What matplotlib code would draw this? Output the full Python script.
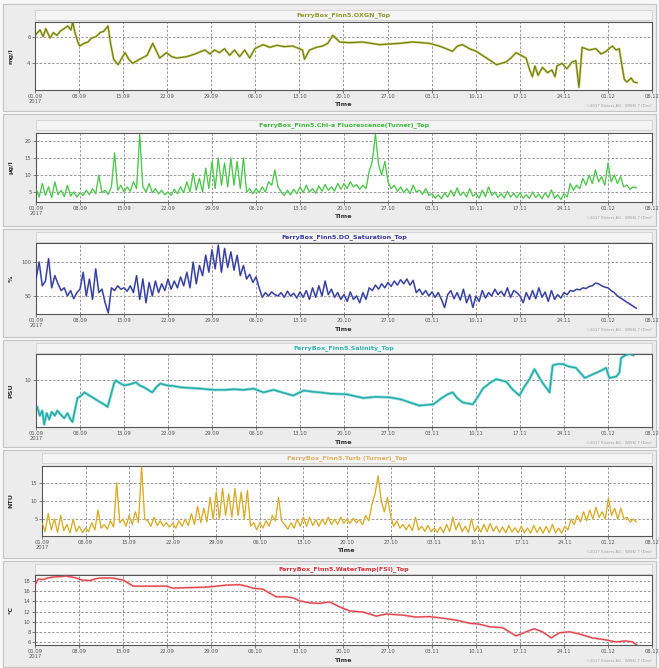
import numpy as np
import pandas as pd
import matplotlib
matplotlib.use('Agg')
import matplotlib.pyplot as plt
from matplotlib.patches import Rectangle

# ---------------- data ----------------
START = pd.Timestamp('2017-09-01')
tick_labels = ['01.09', '08.09', '15.09', '22.09', '29.09', '06.10', '13.10', '20.10',
               '27.10', '03.11', '10.11', '17.11', '24.11', '01.12', '08.12']
tick_days = [0, 7, 14, 21, 28, 35, 42, 49, 56, 63, 70, 77, 84, 91, 98]
year_label = '2017'

oxgn_days = [0.2, 0.8, 1.3, 1.7, 2.4, 2.9, 3.5, 4.0, 4.6, 5.2, 5.7, 6.0, 6.3, 6.8, 7.1, 7.8,
             8.4, 9.0, 9.7, 10.3, 10.9, 11.6, 12.0, 12.5, 13.2, 13.8, 14.3, 14.9, 15.5, 16.6,
             17.8, 18.7, 19.3, 19.8, 20.9, 21.7, 22.5, 24.1, 25.4, 26.2, 27.0, 27.8, 28.5,
             29.3, 30.1, 30.9, 31.7, 32.5, 33.3, 34.1, 34.9, 36.2, 37.3, 38.4, 39.6, 40.9,
             42.5, 42.8, 43.6, 44.7, 45.7, 46.5, 47.3, 48.4, 50.0, 52.0, 53.4, 54.7, 56.3,
             57.9, 59.9, 61.4, 62.6, 64.2, 65.3, 66.3, 67.1, 67.9, 69.0, 70.1, 71.7, 73.3,
             74.8, 75.6, 76.4, 77.2, 78.0, 78.5, 79.0, 79.4, 79.9, 80.6, 81.4, 82.1, 82.6,
             82.9, 83.7, 84.5, 85.3, 85.9, 86.4, 86.9, 88.0, 89.1, 89.9, 90.7, 91.7, 92.3,
             92.8, 93.1, 93.6, 94.0, 94.7, 95.1, 95.6]
oxgn_vals = [6.2, 6.5, 6.0, 6.6, 5.9, 6.3, 6.1, 6.4, 6.6, 6.8, 6.5, 7.1, 6.4, 5.6, 5.3, 5.5,
             5.6, 5.9, 6.0, 6.3, 6.4, 6.8, 5.5, 4.3, 3.9, 4.4, 4.8, 4.3, 4.0, 4.3,
             4.6, 5.5, 4.9, 4.4, 4.8, 4.5, 4.4, 4.5, 4.7, 4.85, 5.0, 4.7, 5.0,
             4.8, 5.1, 4.6, 5.0, 4.5, 5.0, 4.4, 5.1, 5.4, 5.2, 5.35, 5.25, 5.3,
             5.0, 4.3, 5.0, 5.2, 5.3, 5.5, 6.1, 5.6, 5.55, 5.6, 5.5, 5.4, 5.45,
             5.5, 5.6, 5.55, 5.5, 5.3, 5.1, 4.9, 5.3, 5.4, 5.1, 4.9, 4.4, 3.9,
             4.1, 4.4, 4.8, 4.6, 4.4, 3.6, 3.0, 3.8, 3.1, 3.7, 3.3, 3.5, 3.0,
             3.8, 4.0, 3.6, 4.1, 4.2, 2.2, 5.2, 5.0, 5.1, 4.7, 4.9, 5.3, 5.0,
             5.1, 4.2, 2.8, 2.6, 2.9, 2.6, 2.55]

# half-daily samples starting 01.09
chl_vals = [6, 3.5, 7.5, 4, 6.5, 3.4, 8, 4.2, 5.5, 3.6, 7, 3.8, 5, 3.5,
            4.8, 4.0, 5.5, 4.2, 6, 4.5, 10, 4.8, 5.5, 4.3, 6.5, 16.5, 5.5, 7,
            5, 6.5, 5.2, 8, 6, 22, 6.5, 5, 7.5, 4.8, 6, 4.5, 5.5, 4.2,
            5, 4, 5.8, 4.5, 6.5, 4.8, 8, 5, 10.5, 5.5, 9, 5, 12, 6,
            14, 6, 15, 7, 13.5, 6.5, 15, 7, 14, 6, 15, 5, 6, 4.5,
            6, 4.8, 6.5, 5, 8, 7, 11.5, 6.5, 5, 4, 5.5, 4.2, 5.8, 4.5,
            6.5, 4.8, 7, 5, 6, 4.6, 6.8, 5.2, 7.2, 5.5, 6.5, 5.3, 7.5, 5.8,
            7.5, 6, 8, 6.5, 7.2, 5.8, 7, 6, 11, 14, 22, 13, 10, 14,
            8, 6, 7, 5.2, 6.5, 4.8, 6, 4.5, 7, 5, 5.5, 4.3, 6, 4,
            4.5, 3.2, 4.2, 3, 4.8, 3.5, 5.5, 3.8, 6.2, 4, 5, 3.5, 6, 3.8,
            4.5, 3.2, 5.5, 3.6, 6.5, 4, 5, 3.4, 4.5, 3.2, 5.2, 3.5, 4.6, 3.3,
            4.8, 3.2, 4.2, 3.1, 5, 3.4, 4.4, 3, 4.8, 3.3, 5.6, 3.2, 4.2, 2.8,
            4.5, 3.5, 7.5, 5.5, 7, 6, 9, 7, 10, 7.5, 11.5, 8, 9.5, 7,
            13.5, 8, 10, 7.5, 9.5, 6.5, 7, 5.8, 6.5, 6.2]

do_vals = [75, 100, 65, 72, 105, 62, 80, 68, 58, 62, 50, 58, 46, 55,
           60, 85, 50, 75, 45, 90, 55, 60, 40, 25, 62, 58, 65, 60,
           62, 57, 65, 55, 80, 45, 75, 40, 70, 50, 72, 55, 68, 58,
           75, 60, 72, 62, 78, 65, 85, 62, 100, 68, 95, 80, 110, 85,
           118, 90, 125, 85, 120, 92, 115, 88, 110, 80, 95, 75, 82, 70,
           78, 62, 48, 55, 50, 56, 52, 50, 55, 48, 57, 50, 54, 47,
           56, 48, 58, 45, 62, 48, 65, 50, 72, 52, 60, 48, 55, 45,
           52, 42, 56, 45, 50, 40, 55, 45, 62, 58, 66, 60, 68, 62,
           70, 64, 72, 66, 74, 68, 75, 66, 73, 55, 60, 52, 58, 50,
           56, 48, 55, 45, 33, 52, 58, 46, 55, 44, 60, 40, 52, 33,
           50, 42, 58, 47, 55, 50, 60, 52, 57, 50, 62, 48, 58, 55,
           50, 40, 55, 45, 58, 46, 62, 48, 56, 42, 58, 45, 52, 47,
           55, 52, 58, 57, 60, 59, 62, 61, 64, 65, 69, 68, 65, 63,
           62, 58, 55, 50, 47, 44, 41, 38, 35, 32]

sal_days = [0.2, 0.6, 1.0, 1.3, 1.7, 2.1, 2.5, 3.0, 3.4, 3.9, 4.5, 5.0, 5.5, 5.8, 6.6, 7.2,
            7.7, 8.5, 9.8, 10.8, 11.4, 12.0, 12.4, 12.7, 13.3, 14.0, 15.0, 15.9, 16.5, 17.2,
            18.0, 18.5, 19.2, 19.8, 20.9, 22.0, 23.0, 24.5, 26.2, 28.3, 30.0, 31.5, 33.0,
            34.6, 36.2, 37.8, 39.5, 40.9, 42.6, 44.0, 45.2, 46.8, 49.4, 52.1, 54.0, 56.3,
            58.0, 59.5, 61.0, 62.0, 63.2, 64.0, 64.7, 65.5, 66.3, 67.0, 67.9, 69.5, 70.3,
            71.1, 72.2, 73.2, 74.8, 75.8, 76.9, 77.7, 78.5, 79.3, 80.0, 80.6, 81.2, 81.7,
            82.2, 83.0, 83.8, 84.8, 85.9, 86.6, 87.3, 88.2, 89.1, 90.0, 90.7, 91.2, 92.3,
            92.8, 93.1, 93.8, 94.4, 95.0]
sal_vals = [7.9, 7.2, 7.6, 6.5, 7.4, 6.9, 7.5, 7.2, 7.6, 7.3, 7.0, 7.4, 6.9, 6.7, 8.6, 8.8,
            9.05, 8.8, 8.4, 8.1, 7.9, 9.0, 9.75, 10.0, 9.8, 9.6, 9.7, 9.85, 9.6, 9.45,
            9.2, 9.05, 9.5, 9.75, 9.6, 9.55, 9.45, 9.4, 9.35, 9.25, 9.25, 9.3, 9.25,
            9.35, 9.05, 9.25, 9.0, 8.8, 9.2, 9.1, 9.05, 8.95, 8.9, 8.6, 8.7, 8.65,
            8.5, 8.25, 8.0, 8.05, 8.1, 8.4, 8.65, 8.9, 9.05, 8.6, 8.25, 8.1, 8.7,
            9.35, 9.8, 10.1, 9.9, 9.3, 8.8, 9.5, 10.1, 10.9, 10.3, 9.8, 9.4, 9.05,
            11.2, 11.3, 11.3, 11.1, 11.0, 10.6, 10.2, 10.4, 10.6, 10.8, 11.0, 10.2, 10.3,
            10.6, 11.8, 12.0, 12.1, 12.0]

turb_vals = [4, 1.5, 6.5, 2, 5, 1.3, 6, 1.8, 3.5, 1.2, 5, 1.5, 3, 1.2,
             2.5, 1.5, 4, 2, 7.5, 2.5, 3.5, 2.2, 4.5, 2.8, 15, 4, 5, 3,
             6, 3.5, 7, 4, 19.5, 5, 4.5, 3, 5.5, 3.2, 4.5, 3, 4, 2.8,
             3.8, 2.5, 4.5, 3, 5, 3.2, 6.5, 3.5, 8.5, 4, 8, 4.2, 11, 5,
             12.5, 5, 13.5, 6, 12, 5.5, 13.5, 6, 12.5, 5, 13, 3, 4, 2,
             4, 2.5, 4.5, 3, 6, 4.5, 11, 4.5, 3.5, 2.2, 4, 2.5, 5, 3,
             5.5, 3, 5.5, 3.2, 4.8, 3, 5, 3.5, 5.5, 3.5, 5, 3.5, 5.5, 3.8,
             5, 3.8, 5.2, 4, 4.8, 3.5, 6, 4.5, 9, 12, 17, 10, 7, 11,
             6, 3, 4.5, 2.5, 3.5, 2, 3.5, 1.8, 5.5, 2, 3, 1.6, 3.2, 1.5,
             2.5, 1.3, 2.8, 1.2, 3.5, 1.5, 5.5, 2, 4, 1.5, 3, 1.3, 5, 1.6,
             3, 1.4, 3.5, 1.5, 3.8, 1.6, 3, 1.3, 2.8, 1.2, 3.2, 1.4, 2.6, 1.2,
             3, 1.2, 2.5, 1.1, 3.2, 1.3, 2.8, 1.1, 3, 1.2, 3.5, 1.2, 2.5, 1.1,
             3, 2, 5, 3.5, 6, 4.2, 7, 4.5, 7.5, 5, 8.3, 5.5, 7, 5,
             10.8, 6, 8, 5, 8, 5, 5.5, 4.2, 5, 4.2]

temp_days = [0.0, 0.5, 1.3, 2.0, 2.9, 4.0, 5.0, 5.8, 6.6, 7.4, 8.7, 9.5, 10.3, 12.4, 14.0,
             14.8, 15.6, 18.2, 20.9, 21.9, 24.0, 27.2, 30.4, 32.5, 33.6, 34.6, 36.2, 37.3,
             38.3, 39.9, 41.0, 42.0, 43.6, 45.2, 46.8, 48.4, 50.0, 52.1, 54.2, 55.8, 58.4,
             60.5, 62.6, 64.7, 66.9, 69.0, 70.6, 72.2, 74.3, 76.4, 78.0, 79.3, 80.6, 82.0,
             83.3, 84.9, 86.4, 88.5, 90.7, 92.3, 93.8, 94.9, 95.7]
temp_vals = [17.2, 18.4, 18.3, 18.6, 18.8, 18.9, 19.0, 18.8, 18.6, 18.2, 18.1, 18.4, 18.6, 18.6, 18.2,
             17.6, 17.0, 17.0, 17.0, 16.6, 16.7, 16.8, 17.2, 17.3, 17.0, 16.6, 16.4, 15.6,
             14.9, 14.9, 14.7, 14.1, 13.7, 13.6, 13.9, 12.9, 12.1, 11.9, 11.1, 11.5, 11.3,
             10.9, 11.0, 10.7, 10.3, 9.7, 9.5, 9.0, 8.8, 7.2, 8.0, 8.6, 8.0, 6.8,
             7.8, 8.0, 7.6, 6.8, 6.4, 6.0, 6.2, 6.0, 5.3]

titles = ['FerryBox_Finn5.OXGN_Top',
          'FerryBox_Finn5.Chl-a Fluorescence(Turner)_Top',
          'FerryBox_Finn5.DO_Saturation_Top',
          'FerryBox_Finn5.Salinity_Top',
          'FerryBox_Finn5.Turb (Turner)_Top',
          'FerryBox_Finn5.WaterTemp(FSI)_Top']
ylabels = ['mg/l', 'µg/l', '%', 'PSU', 'NTU', '°C']
yticks_list = [[4, 6], [5, 10, 15, 20], [50, 100], [10], [5, 10, 15],
               [6, 8, 10, 12, 14, 16, 18]]
copyright_text = '©2017 Kisters AG - WISKI 7 (Dev)'


def to_dates(days):
    return START + pd.to_timedelta(np.asarray(days, dtype=float), unit='D')


half_day = np.arange(len(chl_vals)) * 0.5
series = [(oxgn_days, oxgn_vals), (half_day, chl_vals), (half_day, do_vals),
          (sal_days, sal_vals), (half_day, turb_vals), (temp_days, temp_vals)]

# ---------------- style / layout ----------------
W, H = 659, 668
line_colors = ['#6f7d18', '#3fbf3f', '#2b3596', '#22aaa8', '#d4a21e', '#e0404a']
halo_colors = ['#c9d06a', '#9ae49a', '#8890d0', '#90dcd8', '#eed47a', '#f6a8a8']
title_colors = ['#8f9a2a', '#3cbc3c', '#3a3aa8', '#30b4b4', '#e0b060', '#e03038']
line_widths = [0.8, 0.6, 0.7, 1.0, 0.6, 0.8]
halo_widths = [1.7, 1.1, 1.3, 2.1, 1.1, 1.5]
ylims = [(2.0, 7.1), (2.06, 22.35), (23.5, 128), (6.3, 12.1), (0.3, 19.7), (5.4, 19.2)]
# (frame_top, frame_bottom, title_y, plot_left, plot_top, plot_right, plot_bottom)
layout = [(4, 111, 15, 35, 22, 652, 90),
          (114, 226, 125, 36, 133, 652, 202),
          (229, 337, 237, 36, 243, 652, 314),
          (340, 447, 348, 36, 354, 652, 427),
          (450, 558, 458, 42, 466, 652, 536),
          (561, 667, 569, 35, 575, 652, 645)]

fig = plt.figure(figsize=(W / 100, H / 100), dpi=100)
fig.patch.set_facecolor('#f7f7f7')


def fx(x):
    return x / W


def fy(y):
    return 1 - y / H


tick_dates = to_dates(tick_days)
xlabels = list(tick_labels)
xlabels[0] = xlabels[0] + '\n' + year_label

for i in range(6):
    ft, fb, ty, pl, pt, pr, pb = layout[i]
    # panel frame
    fig.patches.append(Rectangle((fx(3), fy(fb)), fx(653), (fb - ft) / H,
                                 transform=fig.transFigure, facecolor='#ececec',
                                 edgecolor='#c4c4c4', lw=0.8, zorder=0))
    # title strip
    fig.patches.append(Rectangle((fx(pl), fy(ty + 5)), fx(pr - pl), 10 / H,
                                 transform=fig.transFigure, facecolor='#f4f4f4',
                                 edgecolor='#cfcfcf', lw=0.6, zorder=1))
    fig.text(fx((pl + pr) / 2), fy(ty), titles[i], ha='center', va='center',
             fontsize=4.6, color=title_colors[i], fontweight='bold', zorder=3)

    ax = fig.add_axes([fx(pl), fy(pb), fx(pr - pl), (pb - pt) / H])
    ax.set_zorder(5)
    ax.set_facecolor('white')
    xd, yd = series[i]
    t = to_dates(xd)
    ax.plot(t, yd, color=halo_colors[i], lw=halo_widths[i], solid_joinstyle='round', zorder=2)
    ax.plot(t, yd, color=line_colors[i], lw=line_widths[i], zorder=3)
    ax.set_xlim(to_dates([0])[0], to_dates([98])[0])
    ax.set_ylim(*ylims[i])
    ax.set_xticks(tick_dates)
    ax.set_xticklabels(xlabels, fontsize=3.7, color='#333333', linespacing=0.9)
    ax.set_yticks(yticks_list[i])
    ax.set_yticklabels([str(v) for v in yticks_list[i]], fontsize=3.8, color='#333333')
    ax.tick_params(length=2, width=0.5, pad=1.2, colors='#555555')
    ax.grid(True, color='#8a8a8a', lw=0.6, linestyle=(0, (3, 2)))
    for s in ax.spines.values():
        s.set_color('#555555')
        s.set_linewidth(0.8)
    fig.text(fx(11), fy((pt + pb) / 2), ylabels[i], rotation=90, ha='center', va='center',
             fontsize=4.6, fontweight='bold', color='#333333', zorder=3)
    fig.text(fx((pl + pr) / 2), fy(pb + 15), 'Time', ha='center', va='center',
             fontsize=4.6, fontweight='bold', color='#333333', zorder=3)
    fig.text(fx(pr), fy(pb + 16), copyright_text, ha='right', va='center',
             fontsize=2.8, color='#a0a0a0', zorder=3)

fig.savefig('out.png', dpi=100, facecolor=fig.get_facecolor())
